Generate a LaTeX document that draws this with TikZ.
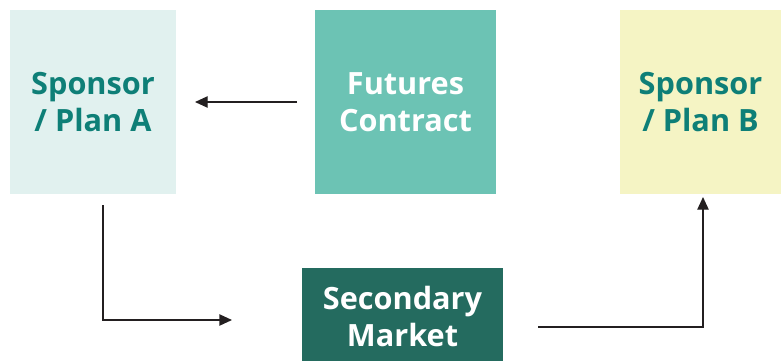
\documentclass[tikz,border=0pt]{standalone}
\usepackage{fontspec}
\setmainfont{Open Sans}
\usetikzlibrary{arrows.meta}
\definecolor{boxA}{HTML}{E1F1EF}
\definecolor{boxF}{HTML}{6CC3B4}
\definecolor{boxB}{HTML}{F5F4C4}
\definecolor{boxS}{HTML}{246B5F}
\definecolor{tealtxt}{HTML}{0E7F77}
\definecolor{linec}{HTML}{231F20}
\begin{document}
\begin{tikzpicture}[x=0.75pt,y=-0.75pt,
  box/.style={inner sep=0pt,align=center,font=\fontsize{23}{27.75}\selectfont\bfseries},
  conn/.style={draw=linec,line width=1pt,-{Triangle[length=9.5pt,width=8.5pt]}}]
\useasboundingbox (0,0) rectangle (781,361);
\fill[boxA] (10,10) rectangle (176,194);
\fill[boxF] (315,10) rectangle (496,194);
\fill[boxB] (620,10) rectangle (781,194);
\fill[boxS] (302,268) rectangle (503,361);
\node[box,text=tealtxt] (A) at (93,102) {Sponsor\\/ Plan A};
\node[box,text=white] (F) at (405.5,102) {Futures\\Contract};
\node[box,text=tealtxt] (B) at (700.5,102) {Sponsor\\/ Plan B};
\node[box,text=white] (S) at (402.5,316) {Secondary\\Market};
\coordinate (f1) at (297,102);
\coordinate (a1) at (195,102);
\coordinate (p1) at (103,205);
\coordinate (p2) at (103,320);
\coordinate (p3) at (232,320);
\coordinate (q1) at (538,327);
\coordinate (q2) at (703,327);
\coordinate (q3) at (703,197);
\draw[conn] (f1) -- (a1);
\draw[conn] (p1) -- (p2) -- (p3);
\draw[conn] (q1) -- (q2) -- (q3);
\end{tikzpicture}
\end{document}
